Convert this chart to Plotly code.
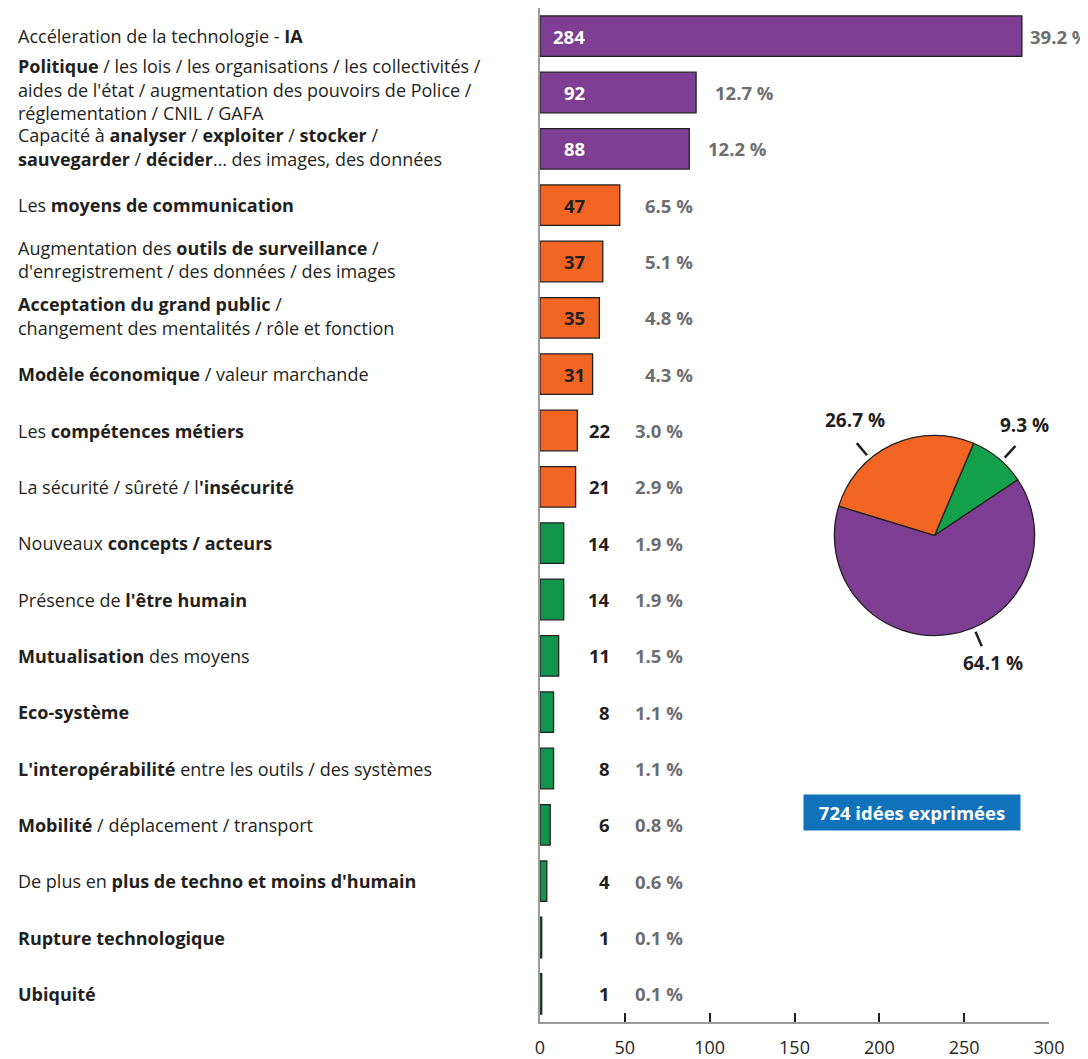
import math
import plotly.graph_objects as go

# ---------------- data ----------------
categories = [
    "Accéleration de la technologie - <b>IA</b>",
    "<b>Politique</b> / les lois / les organisations / les collectivités /<br>aides de l'état / augmentation des pouvoirs de Police /<br>réglementation / CNIL / GAFA",
    "Capacité à <b>analyser</b> / <b>exploiter</b> / <b>stocker</b> /<br><b>sauvegarder</b> / <b>décider</b>… des images, des données",
    "Les <b>moyens de communication</b>",
    "Augmentation des <b>outils de surveillance</b> /<br>d'enregistrement / des données / des images",
    "<b>Acceptation du grand public</b> /<br>changement des mentalités / rôle et fonction",
    "<b>Modèle économique</b> / valeur marchande",
    "Les <b>compétences métiers</b>",
    "La sécurité / sûreté / l<b>'insécurité</b>",
    "Nouveaux <b>concepts / acteurs</b>",
    "Présence de <b>l'être humain</b>",
    "<b>Mutualisation</b> des moyens",
    "<b>Eco-système</b>",
    "<b>L'interopérabilité</b> entre les outils / des systèmes",
    "<b>Mobilité</b> / déplacement / transport",
    "De plus en <b>plus de techno et moins d'humain</b>",
    "<b>Rupture technologique</b>",
    "<b>Ubiquité</b>",
]
counts = [284, 92, 88, 47, 37, 35, 31, 22, 21, 14, 14, 11, 8, 8, 6, 4, 1, 1]
groups = ["purple"] * 3 + ["orange"] * 6 + ["green"] * 9
total_label = "724 idées exprimées"
x_ticks = [0, 50, 100, 150, 200, 250, 300]

# ---------------- styles ----------------
FONT = "Open Sans, Noto Sans, sans-serif"
COL = {"purple": "#7D3E93", "orange": "#F26522", "green": "#10954A"}
PIE_COL = {"purple": "#7D3E93", "orange": "#F26522", "green": "#12A04A"}
DARK = "#231F20"
GREY = "#6D6E70"
FS_LAB = 18
FS = 18.5

# page layout (page pixels; the page body adds an 8px offset)
OFF = 8
PAGE_W, PAGE_H = 1088, 1059
PLOT_L, PLOT_R, PLOT_T, PLOT_B = 540, 1049, 8, 1026
W, H = PAGE_W - OFF, PAGE_H - OFF
ML, MR, MT, MB = PLOT_L - OFF, PAGE_W - PLOT_R, PLOT_T - OFF, PAGE_H - PLOT_B
PW, PH = PLOT_R - PLOT_L, PLOT_B - PLOT_T


def px_x(x):
    return (x - PLOT_L) / PW


def px_y(y):
    return 1 - (y - PLOT_T) / PH


total = sum(counts)
ys = list(range(len(counts)))

fig = go.Figure()
fig.add_trace(go.Bar(
    x=counts, y=ys, orientation="h", width=0.72,
    marker=dict(color=[COL[g] for g in groups], line=dict(color=DARK, width=1.3)),
    hoverinfo="skip", showlegend=False,
))

annotations = []
for i, (lab, v, g) in enumerate(zip(categories, counts, groups)):
    lines = lab.split("<br>")
    n = len(lines)
    spacing = 23.3 if n >= 3 else 23.5
    base_shift = 3 if n >= 3 else (2 if n == 2 else 0)
    for j, line in enumerate(lines):
        offset = (j - (n - 1) / 2) * spacing
        annotations.append(dict(
            x=px_x(16), xref="paper", y=i, yref="y", text=line, showarrow=False,
            xanchor="left", yanchor="middle", align="left",
            yshift=-offset + base_shift,
            font=dict(family=FONT, size=FS_LAB, color=DARK),
        ))
    inside = v >= 31
    annotations.append(dict(
        x=27.7 if inside else 42.4, xref="x", y=i, yref="y", text=f"<b>{v}</b>",
        showarrow=False, xanchor="right", yanchor="middle",
        font=dict(family=FONT, size=FS, color="white" if g == "purple" else DARK),
    ))
    if v + 10 > 290:
        xp = v + 3.5
    else:
        xp = max(v + 10, 60.7 if inside else 54.8)
    annotations.append(dict(
        x=xp, xref="x", y=i, yref="y", text=f"<b>{v / total * 100:.1f} %</b>",
        showarrow=False, xanchor="left", yanchor="middle",
        font=dict(family=FONT, size=FS, color=GREY),
    ))

# ---------------- pie ----------------
pie_order = ["green", "purple", "orange"]
pie_vals = [sum(c for c, g in zip(counts, groups) if g == k) for k in pie_order]
PIE_L, PIE_R, PIE_T, PIE_B = 834, 1035, 437, 638
fig.add_trace(go.Pie(
    values=pie_vals, labels=pie_order, sort=False, direction="clockwise", rotation=23,
    marker=dict(colors=[PIE_COL[k] for k in pie_order], line=dict(color=DARK, width=1.3)),
    textinfo="none", hoverinfo="skip", showlegend=False,
    domain=dict(x=[px_x(PIE_L), px_x(PIE_R)], y=[px_y(PIE_B), px_y(PIE_T)]),
))

cx_px, cy_px = (PIE_L + PIE_R) / 2, (PIE_T + PIE_B) / 2
label_angles = {"green": 42, "purple": 157, "orange": 320}
label_pos = {"green": (90, -111), "purple": (58, 128), "orange": (-80, -116)}
shapes = []
for k, val in zip(pie_order, pie_vals):
    a = math.radians(label_angles[k])
    r1, r2 = 105, 121
    x1, y1 = cx_px + r1 * math.sin(a), cy_px - r1 * math.cos(a)
    x2, y2 = cx_px + r2 * math.sin(a), cy_px - r2 * math.cos(a)
    shapes.append(dict(
        type="line", xref="paper", yref="paper",
        x0=px_x(x1), y0=px_y(y1), x1=px_x(x2), y1=px_y(y2),
        line=dict(color=DARK, width=2.5),
    ))
    dx, dy = label_pos[k]
    annotations.append(dict(
        x=px_x(cx_px + dx), xref="paper", y=px_y(cy_px + dy), yref="paper",
        text=f"<b>{val / total * 100:.1f} %</b>", showarrow=False,
        xanchor="center", yanchor="middle",
        font=dict(family=FONT, size=19, color=DARK),
    ))

# total box
annotations.append(dict(
    x=px_x(912), xref="paper", y=px_y(815.5), yref="paper",
    text=f"<b>{total_label}</b>", showarrow=False, xanchor="center", yanchor="middle",
    width=210, height=29, bgcolor="#1072BA", borderpad=3,
    font=dict(family=FONT, size=18.5, color="white"),
))

fig.update_layout(
    width=W, height=H, margin=dict(l=ML, r=MR, t=MT, b=MB, pad=0),
    paper_bgcolor="white", plot_bgcolor="white",
    annotations=annotations, shapes=shapes,
    font=dict(family=FONT, color=DARK),
    xaxis=dict(
        range=[0, 300], tickvals=x_ticks, ticks="inside", ticklen=9, tickwidth=2,
        tickcolor=DARK, showline=True, linecolor="#9B9B9B", linewidth=2,
        showgrid=False, zeroline=False, tickfont=dict(family=FONT, size=18, color=DARK),
        ticklabelstandoff=8,
    ),
    yaxis=dict(
        range=[len(counts) - 0.5, -0.5], showticklabels=False, ticks="",
        showline=True, linecolor="#9B9B9B", linewidth=2, showgrid=False, zeroline=False,
    ),
)

fig.write_html("out.html")
